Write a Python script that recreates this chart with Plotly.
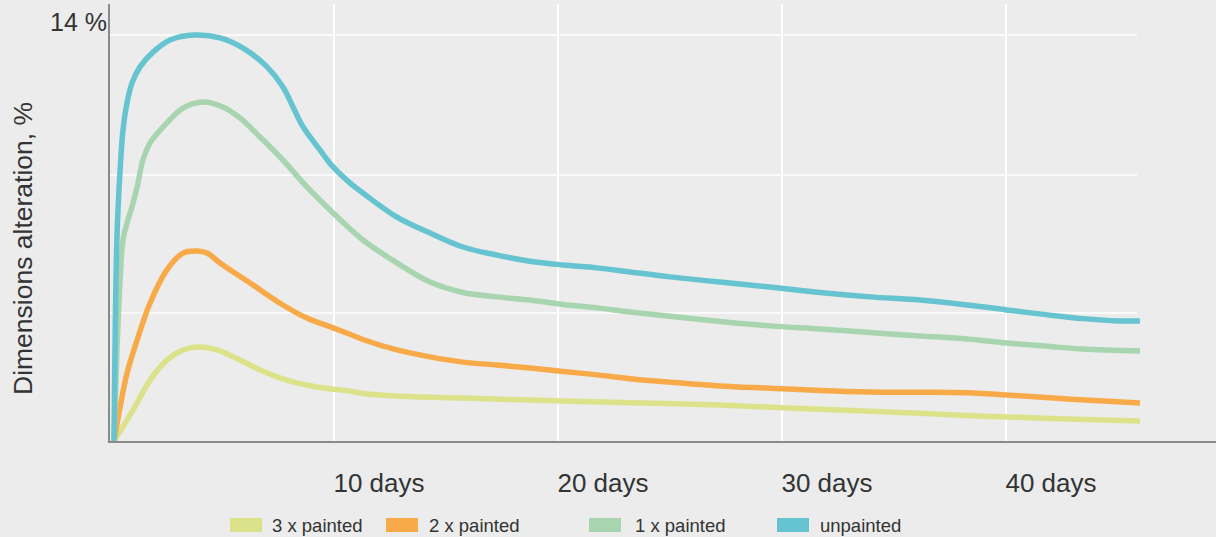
import plotly.graph_objects as go

# ---- data (days, % dimension alteration) ----
series_names = ["3 x painted", "2 x painted", "1 x painted", "unpainted"]

unpainted_x = [0.18, 0.31, 0.45, 0.58, 0.76, 0.98, 1.34, 1.92, 2.68, 3.79, 4.91, 5.94, 7.01, 7.72, 8.17,
               8.62, 9.38, 9.96, 10.71, 11.29, 12.81, 14.29, 15.76, 17.28, 18.75, 20.22, 21.74, 23.21,
               25.0, 27.23, 29.46, 31.7, 33.93, 36.16, 38.26, 40.04, 41.96, 43.44, 44.96, 45.98]
unpainted_y = [0, 7.03, 9.34, 10.72, 11.66, 12.34, 12.90, 13.41, 13.83, 14.0, 13.90, 13.55, 12.90, 12.21,
               11.52, 10.83, 10.03, 9.45, 8.90, 8.55, 7.72, 7.17, 6.69, 6.41, 6.20, 6.07, 5.97, 5.83,
               5.66, 5.48, 5.31, 5.12, 4.97, 4.86, 4.69, 4.52, 4.34, 4.22, 4.14, 4.14]

one_x = [0.18, 0.31, 0.45, 0.58, 0.80, 0.98, 1.21, 1.47, 1.79, 2.54, 3.26, 4.15, 5.04, 5.80, 6.70, 7.72,
         8.79, 9.96, 10.71, 11.29, 12.81, 14.29, 15.76, 17.28, 18.75, 20.22, 21.74, 23.21, 25.0, 27.23,
         29.46, 31.7, 33.93, 36.16, 38.26, 40.04, 41.96, 43.44, 45.98]
one_y = [0, 3.14, 5.55, 6.93, 7.62, 8.07, 8.76, 9.69, 10.28, 10.97, 11.48, 11.69, 11.52, 11.14, 10.48, 9.69,
         8.76, 7.86, 7.32, 6.93, 6.14, 5.48, 5.12, 4.97, 4.86, 4.71, 4.59, 4.45, 4.30, 4.12,
         3.97, 3.86, 3.74, 3.62, 3.52, 3.38, 3.26, 3.17, 3.10]

two_x = [0.18, 0.45, 0.76, 1.21, 1.79, 2.54, 3.26, 3.88, 4.33, 4.91, 6.25, 7.72, 8.79, 9.96, 10.71, 11.29,
         12.81, 14.29, 15.76, 17.28, 18.75, 20.22, 21.74, 23.21, 25.0, 27.23, 29.46, 31.7, 33.93, 36.16,
         38.26, 40.04, 42.72, 45.98]
two_y = [0, 1.17, 2.34, 3.48, 4.76, 5.90, 6.48, 6.55, 6.48, 6.14, 5.45, 4.69, 4.24, 3.90, 3.68, 3.50,
         3.14, 2.90, 2.72, 2.62, 2.52, 2.40, 2.28, 2.15, 2.03, 1.90, 1.82, 1.74, 1.69, 1.68,
         1.66, 1.59, 1.45, 1.31]

three_x = [0.18, 1.03, 1.79, 2.54, 3.26, 3.93, 4.78, 5.80, 6.70, 7.90, 9.24, 10.71, 11.29, 12.81, 15.76,
           18.75, 20.22, 23.21, 27.23, 30.22, 33.17, 36.16, 38.26, 40.04, 42.72, 45.98]
three_y = [0, 1.07, 2.10, 2.79, 3.14, 3.24, 3.14, 2.79, 2.45, 2.10, 1.86, 1.72, 1.64, 1.55, 1.48,
           1.41, 1.38, 1.32, 1.24, 1.14, 1.05, 0.96, 0.88, 0.83, 0.76, 0.69]

x_tick_vals = [10, 20, 30, 40]
x_tick_text = ["10 days", "20 days", "30 days", "40 days"]
y_grid_vals = [4.41, 9.17, 14]
y_tick_vals = [14]
y_tick_text = ["14 %"]
y_title = "Dimensions alteration, %"

# ---- styling ----
colors = ["#DCE289", "#F8AA48", "#A8D5B0", "#66C4D0"]
bg = "#EBECEB"
txt = "#333333"
W, H = 1216, 537
L, R, T, B = 110, 0, 4, 96
X_MAX = (W - L - R) / 22.4
Y_MAX = (H - T - B) / 29.0
GRID_END = 45.85

def px2x(px):
    return (px - L) / (W - L - R)

def py2y(py):
    return (H - B - py) / (H - T - B)

fig = go.Figure()
data = [(three_x, three_y), (two_x, two_y), (one_x, one_y), (unpainted_x, unpainted_y)]
for (xs, ys), name, c in zip(data, series_names, colors):
    fig.add_trace(go.Scatter(x=xs, y=ys, name=name, mode="lines",
                             line=dict(color=c, width=5.5, shape="spline", smoothing=1.0),
                             showlegend=False, hoverinfo="x+y+name"))

shapes = []
for gv in y_grid_vals:
    shapes.append(dict(type="line", xref="x", yref="y", x0=0, x1=GRID_END, y0=gv, y1=gv,
                       line=dict(color="white", width=1.5), layer="below"))

# legend (swatches + labels)
legend_px = [(230, 270), (386, 427), (589, 633), (777, 818)]
annotations = []
for (sx, tx), name, c in zip(legend_px, series_names, colors):
    shapes.append(dict(type="rect", xref="paper", yref="paper",
                       x0=px2x(sx), x1=px2x(sx + 32), y0=py2y(532), y1=py2y(518),
                       fillcolor=c, line=dict(width=0), layer="above"))
    annotations.append(dict(text=name, xref="paper", yref="paper", x=px2x(tx), y=py2y(525),
                            xanchor="left", yanchor="middle", showarrow=False,
                            font=dict(size=18.5, color=txt)))

annotations.append(dict(text=y_title, xref="paper", yref="paper", x=px2x(23), y=py2y(249),
                        xanchor="center", yanchor="middle", textangle=-90, showarrow=False,
                        font=dict(size=26.5, color=txt)))

fig.update_layout(
    width=W, height=H,
    margin=dict(l=L, r=R, t=T, b=B),
    paper_bgcolor=bg, plot_bgcolor=bg,
    font=dict(family="Liberation Sans, Arial, sans-serif", color=txt),
    shapes=shapes, annotations=annotations,
    showlegend=False,
    xaxis=dict(range=[0, X_MAX], tickvals=x_tick_vals, ticktext=x_tick_text,
               showgrid=True, gridcolor="white", gridwidth=1.5, zeroline=False,
               showline=True, linecolor="#8a8a8a", linewidth=2, ticks="",
               tickfont=dict(size=26, color=txt), ticklabelshift=45, ticklabelstandoff=18,
               fixedrange=True),
    yaxis=dict(range=[0, Y_MAX], tickvals=y_tick_vals, ticktext=y_tick_text,
               showgrid=False, zeroline=False,
               showline=True, linecolor="#8a8a8a", linewidth=2, ticks="",
               tickfont=dict(size=25, color=txt), ticklabelshift=-13, ticklabelstandoff=-4,
               fixedrange=True),
)

fig.write_html("out.html",
               config={"displayModeBar": False},
               post_script="document.body.style.margin='0';document.body.style.overflow='hidden';"
                           "document.body.style.background='" + bg + "';")
